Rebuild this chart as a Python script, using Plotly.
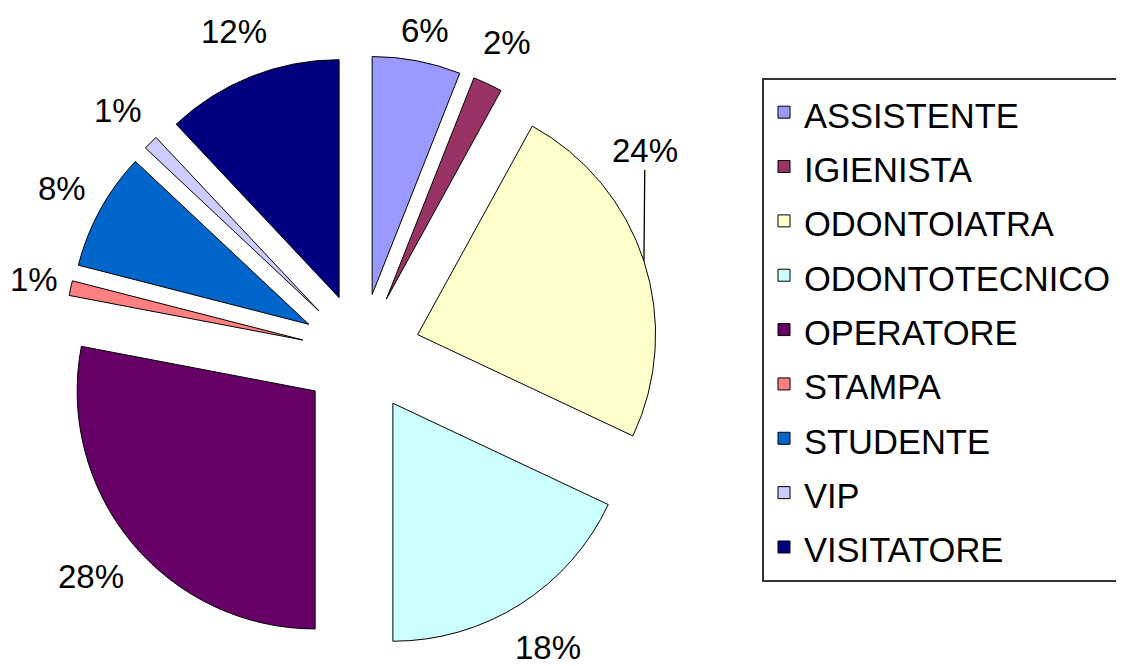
import math
import plotly.graph_objects as go

categories = ["ASSISTENTE", "IGIENISTA", "ODONTOIATRA", "ODONTOTECNICO",
              "OPERATORE", "STAMPA", "STUDENTE", "VIP", "VISITATORE"]
values = [6, 2, 24, 18, 28, 1, 8, 1, 12]
colors = ["#9999FF", "#993366", "#FFFFCC", "#CCFFFF", "#660066",
          "#FF8080", "#0066CC", "#CCCCFF", "#000080"]

W, H = 1124, 666
cx, cy, half = 353, 345, 297.5      # pie centre and half-size of its box (px)
PULL = 0.25
FONT = "Liberation Sans, Arial, sans-serif"
LABEL_SIZE = 33
# labels moved away from their slice and joined to it by a leader line
LEADER_OFFSET = {"ODONTOIATRA": (1, -111)}

legend_labels = [f'<span style="font-size:34.5px">{c}</span>' for c in categories]

fig = go.Figure(go.Pie(
    labels=legend_labels,
    values=values,
    sort=False,
    direction="clockwise",
    rotation=0,
    pull=[PULL] * len(values),
    marker=dict(colors=colors, line=dict(color="#000000", width=1)),
    textinfo="none",
    domain=dict(x=[(cx - half) / W, (cx + half) / W],
                y=[1 - (cy + half) / H, 1 - (cy - half) / H]),
    showlegend=True,
    hoverinfo="label+percent",
))

# percentage labels outside each slice, along the slice's mid angle,
# with the label box kept just clear of the slice's outer edge
total = sum(values)
gap, box_h, min_y = 8, 60, 22
cum = 0
for name, v in zip(categories, values):
    mid = (cum + v / 2) / total * 2 * math.pi
    cum += v
    txt = f"{round(v / total * 100)}%"
    font = dict(family=FONT, size=LABEL_SIZE, color="#000000")
    if name in LEADER_OFFSET:
        ex = cx + half * math.sin(mid)
        ey = cy - half * math.cos(mid)
        ax, ay = LEADER_OFFSET[name]
        fig.add_annotation(
            x=ex / W, y=1 - ey / H, xref="paper", yref="paper",
            text=txt, showarrow=True, arrowhead=0, arrowwidth=1.3,
            arrowcolor="#000000", standoff=0, ax=ax, ay=ay, font=font,
        )
        continue
    box_w = ((len(txt) - 1) * 0.556 + 0.889) * LABEL_SIZE
    dist = half + gap + box_w / 2 * abs(math.sin(mid)) + box_h / 2 * abs(math.cos(mid))
    px = cx + dist * math.sin(mid)
    py = max(cy - dist * math.cos(mid), min_y)
    fig.add_annotation(
        x=px / W, y=1 - py / H, xref="paper", yref="paper",
        text=txt, showarrow=False,
        xanchor="center", yanchor="middle", font=font,
    )

fig.update_layout(
    width=W, height=H,
    margin=dict(l=0, r=0, t=0, b=0, autoexpand=False),
    paper_bgcolor="white",
    plot_bgcolor="white",
    font=dict(family=FONT, color="#000000"),
    legend=dict(
        x=754 / W, y=1 - 70 / H, xanchor="left", yanchor="top",
        font=dict(family=FONT, size=39.5, color="#000000"),
        bordercolor="#333333", borderwidth=2, bgcolor="white",
        traceorder="normal",
    ),
)

fig.write_html("out.html")
